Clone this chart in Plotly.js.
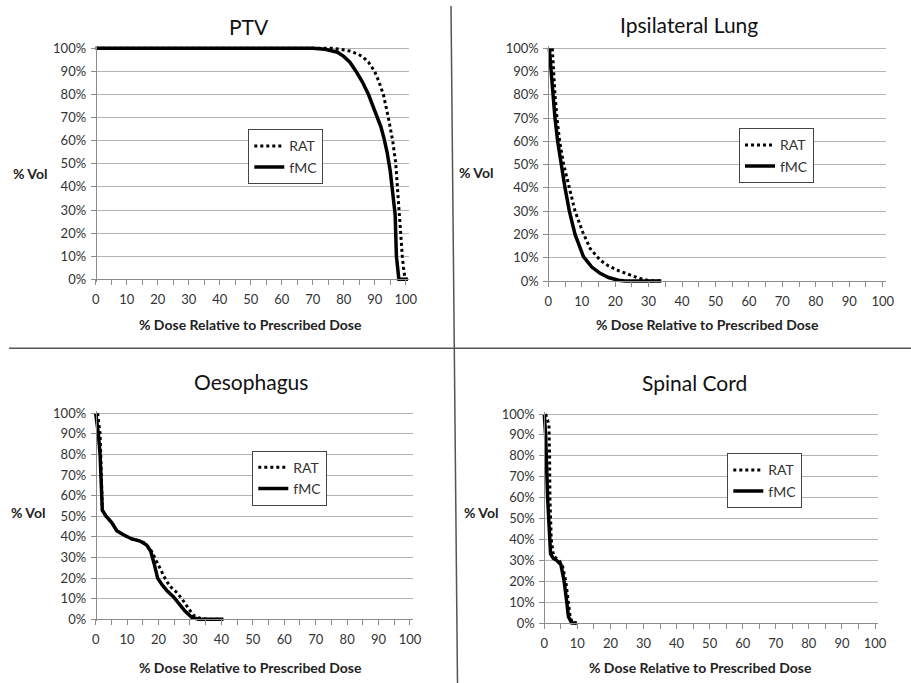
<!DOCTYPE html>
<html>
<head>
<meta charset="utf-8">
<script src="https://cdn.plot.ly/plotly-3.0.1.min.js"></script>
<style>html,body{margin:0;padding:0;background:#fff}#chart{width:911px;height:683px}</style>
</head>
<body>
<div id="chart"></div>
<script>
// ---------------- DATA ----------------
const panelTitles = ["PTV", "Ipsilateral Lung", "Oesophagus", "Spinal Cord"];
const seriesNames = ["RAT", "fMC"];
const xTitle = "% Dose Relative to Prescribed Dose";
const yTitle = "% Vol";
const xTickVals = [0, 10, 20, 30, 40, 50, 60, 70, 80, 90, 100];
const yTickVals = [0, 10, 20, 30, 40, 50, 60, 70, 80, 90, 100];

// PTV
const ptvRAT_dose = [0, 76, 79, 82, 84, 86, 88, 90, 91.5, 92.8, 94.4, 95.8, 96.8, 97.3, 97.8, 98.4, 98.9, 99.3, 99.8, 100.7];
const ptvRAT_vol  = [100, 100, 99.6, 98.8, 97.8, 96.5, 94, 90, 85, 80, 70, 60, 50, 40, 30, 20, 10, 5, 0, 0];
const ptvFMC_dose = [0, 70, 74, 78, 80, 82, 84, 86, 88, 90, 91, 92, 93, 94, 95, 96, 96.6, 97, 97.3, 97.8, 100.7];
const ptvFMC_vol  = [100, 100, 99.6, 98.3, 96.5, 94, 90, 85.5, 80, 73, 70, 66, 61, 55, 47, 36, 28, 10, 5, 0, 0];

// Ipsilateral Lung
const lungRAT_dose = [1.2, 1.5, 2, 2.6, 3.4, 4.6, 6.2, 8, 10.3, 12.5, 15.5, 18, 21, 24, 27, 30, 33.8];
const lungRAT_vol  = [100, 90, 80, 70, 60, 50, 40, 30, 21, 14, 9, 6.5, 4.5, 2.8, 1.2, 0.2, 0];
const lungFMC_dose = [0.3, 0.8, 1.3, 2, 2.8, 3.8, 5, 6.3, 8, 10.5, 13, 15.5, 18, 21, 23, 33.8];
const lungFMC_vol  = [100, 90, 80, 70, 60, 50, 40, 30, 20, 10.5, 6, 3.3, 1.5, 0.3, 0, 0];

// Oesophagus
const oesRAT_dose = [0.6, 1.4, 1.6, 1.8, 2.1, 3.3, 5.1, 6.7, 8.8, 11.5, 14.1, 15.7, 17.8, 19.4, 21, 22, 23.6, 25.8, 27.4, 29.5, 31, 33.2, 35.3, 40.6];
const oesRAT_vol  = [100, 90, 80, 60, 53, 50, 47, 43, 41, 39, 38, 37, 33, 28, 23, 20, 16, 13, 10, 5, 2, 0.5, 0, 0];
const oesFMC_dose = [0, 0.85, 1.4, 1.6, 1.8, 2.1, 3.3, 5.1, 6.7, 8.8, 11.5, 14.1, 16.2, 17.5, 18.6, 19.7, 21, 22.6, 24.7, 26.3, 28.4, 30.5, 32.7, 40.6];
const oesFMC_vol  = [100, 90, 80, 70, 60, 53, 50, 47, 43, 41, 39, 38, 36, 33, 27, 20, 17, 14, 11, 8, 4, 1, 0, 0];

// Spinal Cord
const cordRAT_dose = [0.4, 1.4, 1.6, 1.7, 2.1, 2.8, 4.4, 5.4, 6.5, 7.3, 7.8, 8.5, 9.8];
const cordRAT_vol  = [100, 95, 80, 60, 40, 32, 30, 28, 20, 10, 3, 0, 0];
const cordFMC_dose = [0, 0.4, 1, 1.5, 1.9, 2.7, 3.7, 5, 5.4, 6, 6.8, 7.3, 8.3, 9.8];
const cordFMC_vol  = [100, 90, 60, 40, 33, 31, 30, 28, 25, 20, 10, 3, 0, 0];

// ---------------- LAYOUT GEOMETRY (pixels) ----------------
const W = 911, H = 683;
const panels = [
  {x0: 95.7, x100: 405.7, y100: 48.3, y0: 279.3, title: [249, 27], xt: [250, 324], yt: [30, 174], leg: [248.3, 129.3], data: [[ptvRAT_dose, ptvRAT_vol], [ptvFMC_dose, ptvFMC_vol]]},
  {x0: 548.3, x100: 882.7, y100: 48.3, y0: 281, title: [689, 24], xt: [707, 324], yt: [476, 172], leg: [739, 128.3], data: [[lungRAT_dose, lungRAT_vol], [lungFMC_dose, lungFMC_vol]]},
  {x0: 95.7, x100: 410, y100: 413.3, y0: 619.3, title: [251, 381.5], xt: [250, 667.5], yt: [28, 512.5], leg: [252.3, 450.7], data: [[oesRAT_dose, oesRAT_vol], [oesFMC_dose, oesFMC_vol]]},
  {x0: 544.3, x100: 875, y100: 414, y0: 623, title: [694, 382.5], xt: [700, 667.5], yt: [481, 512], leg: [727.3, 453.3], data: [[cordRAT_dose, cordRAT_vol], [cordFMC_dose, cordFMC_vol]]}
];

const FONT = "Lato, 'Open Sans', sans-serif";
const px2x = p => p / W;
const px2y = p => 1 - p / H;

const traces = [];
const layout = {
  width: W, height: H,
  margin: {l: 0, r: 0, t: 0, b: 0},
  paper_bgcolor: "#fff", plot_bgcolor: "rgba(0,0,0,0)",
  font: {family: FONT, color: "#333"},
  showlegend: true,
  annotations: [],
  shapes: []
};

const XMIN = -1, XMAX = 101, YMIN = -1, YMAX = 101;

panels.forEach((p, i) => {
  const n = i + 1;
  const xa = n === 1 ? "xaxis" : "xaxis" + n;
  const ya = n === 1 ? "yaxis" : "yaxis" + n;
  const xs = (p.x100 - p.x0) / 100;
  const ys = (p.y0 - p.y100) / 100;
  const dl = p.x0 + XMIN * xs, dr = p.x0 + XMAX * xs;
  const dtop = p.y0 - YMAX * ys, dbot = p.y0 - YMIN * ys;
  const legName = n === 1 ? "legend" : "legend" + n;

  layout[xa] = {
    domain: [px2x(dl), px2x(dr)], range: [XMIN, XMAX],
    anchor: "free", position: px2y(p.y0),
    showgrid: false, zeroline: false,
    showline: true, linecolor: "#8c8c8c", linewidth: 1,
    ticks: "outside", ticklen: 5, tickcolor: "#8c8c8c", tickwidth: 1,
    tickvals: xTickVals, ticktext: xTickVals.map(String),
    minor: {ticks: "outside", ticklen: 5, tickcolor: "#8c8c8c", dtick: 5, tick0: 0, showgrid: false},
    tickfont: {family: FONT, size: 13, color: "#333"},
    ticklabelstandoff: 3,
    fixedrange: true
  };
  layout[ya] = {
    domain: [px2y(dbot), px2y(dtop)], range: [YMIN, YMAX],
    anchor: "free", position: px2x(p.x0),
    showgrid: true, gridcolor: "#b4b4b4", gridwidth: 1,
    zeroline: false,
    showline: true, linecolor: "#8c8c8c", linewidth: 1,
    ticks: "outside", ticklen: 5, tickcolor: "#8c8c8c", tickwidth: 1,
    tickvals: yTickVals, ticktext: yTickVals.map(v => v + "%"),
    tickfont: {family: FONT, size: 13, color: "#333"},
    ticklabelstandoff: 2,
    fixedrange: true
  };
  const xref = n === 1 ? "x" : "x" + n;
  const yref = n === 1 ? "y" : "y" + n;

  traces.push({
    type: "scatter", mode: "lines", name: seriesNames[0],
    x: p.data[0][0], y: p.data[0][1], xaxis: xref, yaxis: yref,
    line: {color: "#000", width: 3, dash: "dot"}, legend: legName
  });
  traces.push({
    type: "scatter", mode: "lines", name: seriesNames[1],
    x: p.data[1][0], y: p.data[1][1], xaxis: xref, yaxis: yref,
    line: {color: "#000", width: 3.5}, legend: legName
  });

  layout[legName] = {
    x: px2x(p.leg[0]), y: px2y(p.leg[1]), xanchor: "left", yanchor: "top",
    xref: "paper", yref: "paper",
    bgcolor: "#fff", bordercolor: "#444", borderwidth: 1,
    font: {family: FONT, size: 14, color: "#333"},
    traceorder: "normal", itemwidth: 30
  };

  layout.annotations.push({
    xref: "paper", yref: "paper", x: px2x(p.title[0]), y: px2y(p.title[1]),
    xanchor: "center", yanchor: "middle", showarrow: false,
    text: panelTitles[i], font: {family: FONT, size: 21, color: "#111"}
  });
  layout.annotations.push({
    xref: "paper", yref: "paper", x: px2x(p.xt[0]), y: px2y(p.xt[1]),
    xanchor: "center", yanchor: "middle", showarrow: false,
    text: "<b>" + xTitle + "</b>", font: {family: FONT, size: 14, color: "#222"}
  });
  layout.annotations.push({
    xref: "paper", yref: "paper", x: px2x(p.yt[0]), y: px2y(p.yt[1]),
    xanchor: "center", yanchor: "middle", showarrow: false,
    text: "<b>" + yTitle + "</b>", font: {family: FONT, size: 14, color: "#222"}
  });
});

// divider lines between the four panels
layout.shapes.push({type: "line", xref: "paper", yref: "paper",
  x0: px2x(451), y0: px2y(6), x1: px2x(457.5), y1: px2y(683),
  line: {color: "#555", width: 1.5}});
layout.shapes.push({type: "line", xref: "paper", yref: "paper",
  x0: px2x(9), y0: px2y(348.3), x1: px2x(911), y1: px2y(348.3),
  line: {color: "#555", width: 1.5}});

Plotly.newPlot("chart", traces, layout, {displayModeBar: false, staticPlot: true});
</script>
</body>
</html>
